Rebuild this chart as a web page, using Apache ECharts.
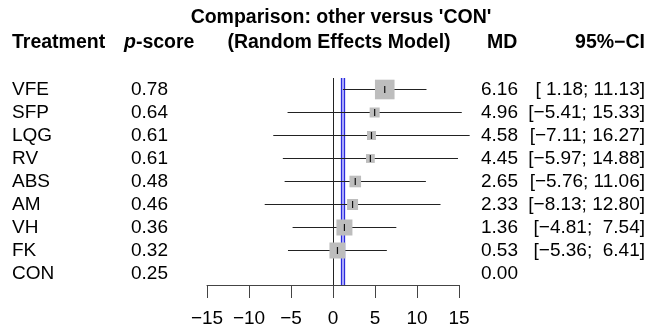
<!DOCTYPE html>
<html>
<head>
<meta charset="utf-8">
<script src="https://cdn.jsdelivr.net/npm/echarts@6/dist/echarts.min.js"></script>
<style>
  html, body { margin: 0; padding: 0; background: #fff; }
  #chart_container { width: 648px; height: 333px; }
</style>
</head>
<body>
<div id="chart_container"></div>
<script>
"use strict";

// values
const treatments = ['VFE', 'SFP', 'LQG', 'RV', 'ABS', 'AM', 'VH', 'FK', 'CON'];
const pScores = ['0.78', '0.64', '0.61', '0.61', '0.48', '0.46', '0.36', '0.32', '0.25'];
const md = [6.16, 4.96, 4.58, 4.45, 2.65, 2.33, 1.36, 0.53, 0.00];
const lower = [1.18, -5.41, -7.11, -5.97, -5.76, -8.13, -4.81, -5.36, null];
const upper = [11.13, 15.33, 16.27, 14.88, 11.06, 12.80, 7.54, 6.41, null];
// relative weight of each comparison (square size)
const weights = [0.98, 0.5, 0.45, 0.44, 0.58, 0.55, 0.8, 0.8, 0];
const xTicks = [-15, 15, 5];          // min, max, step
const blueLines = [1.0, 1.35];

const FONT = "'Liberation Sans', Arial, sans-serif";

let minus = (s) => s.replace(/-/g, '\u2212');
let fmt = (v) => minus(v.toFixed(2)).padStart(5, ' ');
let ciText = (i) => lower[i] == null ? '' : `[${fmt(lower[i])}; ${fmt(upper[i])}]`;

let txt = (x, y, text, align) => ({
    type: 'text',
    style: {
        x: x, y: y, text: text, fill: '#000',
        font: `19px ${FONT}`,
        align: align, verticalAlign: 'middle',
        textAlign: align, textVerticalAlign: 'middle'
    }
});

let renderRow = (params, api) => {
    const i = api.value(0);
    const y = api.coord([0, i])[1];
    const kids = [];
    if (lower[i] != null) {
        const p0 = api.coord([lower[i], i]);
        const p1 = api.coord([upper[i], i]);
        const pm = api.coord([md[i], i]);
        const s = weights[i] * 20;
        kids.push({ type: 'line', shape: { x1: p0[0], y1: y, x2: p1[0], y2: y },
            style: { stroke: '#222', lineWidth: 1 } });
        kids.push({ type: 'rect', shape: { x: pm[0] - s / 2, y: y - s / 2, width: s, height: s },
            style: { fill: '#bdbdbd' } });
        kids.push({ type: 'line', shape: { x1: pm[0], y1: y - 3.5, x2: pm[0], y2: y + 3.5 },
            style: { stroke: '#111', lineWidth: 1.2 } });
    }
    kids.push(txt(12, y, treatments[i], 'left'));
    kids.push(txt(131, y, pScores[i], 'left'));
    kids.push(txt(518, y, md[i].toFixed(2), 'right'));
    kids.push(txt(645, y, ciText(i), 'right'));
    return { type: 'group', children: kids };
};

let header = (x, y, text, align) => ({
    type: 'text',
    x: x, y: y,
    style: {
        text: text, fill: '#000', font: `bold 19.5px ${FONT}`,
        align: align, verticalAlign: 'middle',
        textAlign: align, textVerticalAlign: 'middle'
    }
});

let pageLoaded = () => {
    let chartDom = document.getElementById('chart_container');
    let myChart = echarts.init(chartDom, null, { renderer: 'canvas' });

    const optEchart = {
        animation: false,
        backgroundColor: '#fff',
        grid: { left: 207, right: 189, top: 78, bottom: 48 },
        xAxis: {
            type: 'value', min: xTicks[0], max: xTicks[1], interval: xTicks[2],
            axisLine: { show: true, onZero: false, lineStyle: { color: '#444', width: 1 } },
            axisTick: { show: true, length: 13, lineStyle: { color: '#444' } },
            axisLabel: { fontSize: 19, fontFamily: FONT, color: '#000', margin: 24,
                formatter: (v) => minus(String(v)) },
            splitLine: { show: false }
        },
        yAxis: { type: 'value', min: -0.5, max: treatments.length - 0.5, inverse: true, show: false },
        graphic: [
            header(341, 18, "Comparison: other versus 'CON'", 'center'),
            header(12, 43, 'Treatment', 'left'),
            {
                type: 'text', x: 124, y: 43,
                style: {
                    text: '{i|p}{b|-score}', fill: '#000',
                    verticalAlign: 'middle', textVerticalAlign: 'middle',
                    rich: {
                        i: { font: `bold italic 19.5px ${FONT}` },
                        b: { font: `bold 19.5px ${FONT}` }
                    }
                }
            },
            header(339, 43, '(Random Effects Model)', 'center'),
            header(487, 43, 'MD', 'left'),
            header(645, 43, '95%\u2212CI', 'right')
        ],
        series: [
            {
                type: 'line', data: [], silent: true,
                markArea: {
                    silent: true,
                    itemStyle: { color: 'rgba(140,140,255,0.55)' },
                    data: [[{ xAxis: blueLines[0] }, { xAxis: blueLines[1] }]]
                },
                markLine: {
                    silent: true, symbol: 'none', label: { show: false },
                    data: [
                        { xAxis: 0, lineStyle: { color: '#222', width: 1, type: 'solid' } },
                        { xAxis: blueLines[0], lineStyle: { color: '#2b2bdc', width: 1.3, type: 'solid' } },
                        { xAxis: blueLines[1], lineStyle: { color: '#2b2bdc', width: 1.3, type: 'solid' } }
                    ]
                }
            },
            {
                type: 'custom', clip: false, silent: true,
                renderItem: renderRow,
                data: treatments.map((t, i) => [i]),
                z: 5
            }
        ]
    };

    optEchart && myChart.setOption(optEchart);
};

window.addEventListener('load', pageLoaded, false);
</script>
</body>
</html>
